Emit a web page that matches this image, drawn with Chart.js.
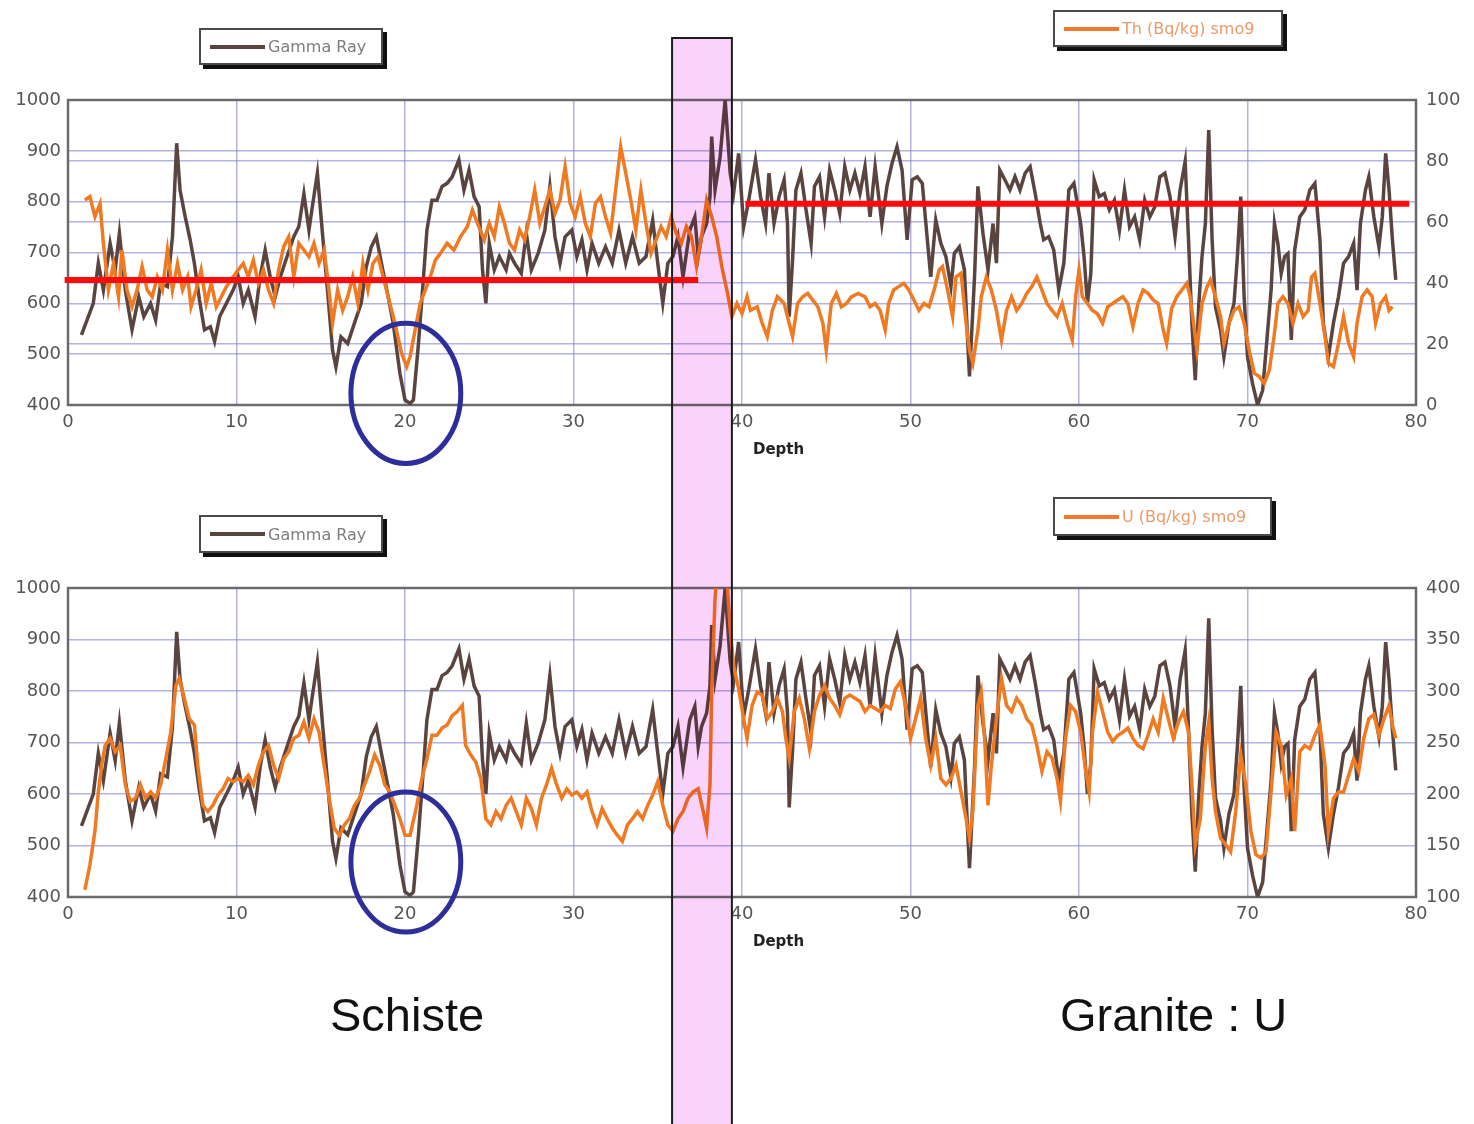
<!DOCTYPE html>
<html>
<head>
<meta charset="utf-8">
<title>Gamma Ray / Th / U</title>
<script src="https://cdn.jsdelivr.net/npm/chart.js@4.4.1/dist/chart.umd.min.js"></script>
<style>
    body { margin: 0; background: #fff; }
    #page { position: relative; width: 1474px; height: 1124px; overflow: hidden; background: #fff; }
    canvas { position: absolute; left: 0; }
    .legend {
        position: absolute; box-sizing: border-box; background: #fff;
        border: 2px solid #4a4a4a; box-shadow: 4px 4px 0 #111;
        display: flex; align-items: center;
        font-family: "DejaVu Sans", sans-serif; font-size: 16px;
    }
    .legend .swatch { display: inline-block; width: 55px; height: 4px; margin-left: 9px; }
    .legend .label { margin-left: 3px; white-space: nowrap; }
    .depth { position: absolute; font-family: "DejaVu Sans", sans-serif; font-weight: bold; font-size: 15px; line-height: 1; color: #222; }
    .big { position: absolute; font-family: "Liberation Sans", Arial, sans-serif; font-size: 47px; line-height: 1; color: #111; white-space: nowrap; }
</style>
</head>
<body>
<div id="page">
    <canvas id="chartTh" width="1474" height="490" style="top:0"></canvas>
    <canvas id="chartU" width="1474" height="634" style="top:490px"></canvas>

    <div class="legend" style="left:199px;top:28px;width:184px;height:37px">
        <span class="swatch" style="background:#5a4440"></span><span class="label" style="color:#7d7d7d">Gamma Ray</span>
    </div>
    <div class="legend" style="left:1053px;top:10px;width:230px;height:37px">
        <span class="swatch" style="background:#ef7a2a"></span><span class="label" style="color:#eb9a68">Th (Bq/kg) smo9</span>
    </div>
    <div class="legend" style="left:199px;top:515px;width:184px;height:38px">
        <span class="swatch" style="background:#5a4440"></span><span class="label" style="color:#7d7d7d">Gamma Ray</span>
    </div>
    <div class="legend" style="left:1053px;top:497px;width:219px;height:39px">
        <span class="swatch" style="background:#ef7a2a"></span><span class="label" style="color:#eb9a68">U (Bq/kg) smo9</span>
    </div>

    <div class="depth" style="left:753px;top:442px">Depth</div>
    <div class="depth" style="left:753px;top:934px">Depth</div>

    <div class="big" style="left:330px;top:991px">Schiste</div>
    <div class="big" style="left:1060px;top:991px">Granite : U</div>
</div>

<script>
// Profondeur (m) et Gamma Ray (même courbe sur les deux graphiques)
const depthGamma = [
    0.8,1.5,1.8,2.1,2.5,2.8,3.05,3.4,3.8,4.2,
    4.5,4.9,5.2,5.5,5.9,6.2,6.45,6.65,6.95,7.25,
    7.5,7.8,8.1,8.45,8.7,9.0,9.4,9.8,10.1,10.4,
    10.7,11.1,11.4,11.7,12.0,12.3,12.6,13.0,13.4,13.7,
    14.0,14.3,14.5,14.8,15.1,15.4,15.7,15.9,16.2,16.6,
    17.0,17.4,17.7,18.0,18.3,18.6,19.0,19.3,19.7,20.0,
    20.3,20.5,20.8,21.1,21.3,21.6,21.9,22.2,22.5,22.8,
    23.2,23.5,23.8,24.1,24.4,24.6,24.8,25.0,25.3,25.6,
    26.0,26.2,26.5,26.9,27.2,27.5,27.9,28.3,28.6,28.9,
    29.2,29.5,29.9,30.2,30.5,30.8,31.1,31.5,31.9,32.3,
    32.7,33.1,33.5,33.9,34.3,34.7,35.0,35.3,35.6,35.9,
    36.2,36.5,36.9,37.2,37.4,37.6,37.9,38.1,38.2,38.4,
    38.7,39.0,39.3,39.5,39.8,40.1,40.4,40.8,41.1,41.4,
    41.6,41.9,42.2,42.5,42.7,42.8,43.0,43.2,43.5,43.8,
    44.1,44.3,44.6,44.9,45.2,45.5,45.8,46.1,46.4,46.7,
    47.0,47.3,47.6,47.9,48.3,48.6,48.9,49.2,49.5,49.8,
    50.1,50.4,50.7,51.0,51.2,51.5,51.8,52.1,52.4,52.6,
    52.9,53.2,53.4,53.5,53.8,54.0,54.3,54.6,54.9,55.1,
    55.3,55.6,55.9,56.2,56.5,56.8,57.1,57.4,57.7,57.9,
    58.2,58.5,58.8,59.1,59.4,59.7,60.1,60.3,60.5,60.7,
    60.9,61.2,61.5,61.8,62.1,62.4,62.7,63.0,63.3,63.6,
    63.9,64.2,64.5,64.8,65.1,65.4,65.7,66.0,66.3,66.5,
    66.7,66.9,67.1,67.3,67.5,67.7,67.9,68.1,68.4,68.6,
    68.9,69.2,69.4,69.6,69.8,70.0,70.3,70.6,70.9,71.1,
    71.4,71.6,71.8,72.0,72.2,72.4,72.6,72.8,73.1,73.4,
    73.7,74.0,74.3,74.5,74.8,75.1,75.4,75.7,76.0,76.3,
    76.5,76.7,77.0,77.2,77.5,77.8,78.0,78.2,78.4,78.6,
    78.8
];
const gammaRay = [
    538,600,679,626,718,665,738,626,548,613,
    574,600,567,639,633,731,915,823,771,725,
    679,607,548,554,525,574,600,626,652,600,
    626,574,652,705,652,613,652,692,731,751,
    816,744,790,856,738,626,508,475,534,521,
    561,600,672,711,731,679,613,561,462,410,
    403,410,521,652,744,803,803,830,836,849,
    882,823,862,810,790,666,600,718,666,692,
    666,698,679,659,738,666,698,744,830,731,
    679,731,744,692,725,666,718,679,711,679,
    744,679,731,679,692,764,679,600,679,692,
    731,652,744,770,692,731,757,810,928,823,
    888,1000,856,816,895,751,803,882,810,757,
    856,757,810,843,757,574,685,823,856,784,
    718,830,849,770,862,823,777,869,823,856,
    816,869,770,869,757,830,875,908,862,725,
    843,849,836,725,652,764,718,692,633,698,
    711,666,521,456,652,830,738,666,757,679,
    862,843,823,849,823,856,869,816,757,725,
    731,705,626,679,823,836,757,692,600,659,
    843,810,816,784,803,744,823,751,770,725,
    803,770,790,849,856,810,731,823,879,725,
    561,449,593,692,757,941,725,593,548,495,
    561,600,692,810,613,495,442,400,429,508,
    626,757,718,659,692,698,528,705,770,784,
    823,836,725,561,495,561,613,679,692,718,
    626,757,823,849,770,711,770,895,823,725,
    646
];

// Thorium (Bq/kg) lissé
const depthTh = [
    1.0,1.3,1.6,1.9,2.1,2.4,2.7,3.0,3.2,3.5,
    3.8,4.1,4.4,4.7,5.0,5.3,5.6,5.9,6.2,6.5,
    6.8,7.1,7.3,7.6,7.9,8.2,8.5,8.8,9.1,9.4,
    9.8,10.1,10.4,10.7,11.0,11.3,11.6,11.9,12.2,12.5,
    12.8,13.1,13.4,13.7,14.0,14.3,14.6,14.9,15.2,15.4,
    15.7,16.0,16.3,16.6,16.9,17.2,17.5,17.8,18.1,18.4,
    18.7,19.1,19.4,19.8,20.1,20.3,20.6,20.9,21.2,21.5,
    21.8,22.1,22.5,22.9,23.3,23.7,24.0,24.3,24.7,25.0,
    25.3,25.6,25.9,26.2,26.5,26.8,27.1,27.4,27.7,28.0,
    28.3,28.6,28.9,29.2,29.5,29.8,30.1,30.4,30.7,31.0,
    31.3,31.6,31.9,32.2,32.5,32.8,33.1,33.4,33.7,34.0,
    34.3,34.6,34.9,35.2,35.5,35.8,36.1,36.4,36.7,37.0,
    37.3,37.6,37.9,38.2,38.5,38.8,39.1,39.4,39.7,40.0,
    40.3,40.5,40.9,41.2,41.5,41.8,42.1,42.5,42.8,43.0,
    43.3,43.6,43.9,44.2,44.5,44.8,45.0,45.3,45.6,45.9,
    46.2,46.5,46.9,47.3,47.6,47.9,48.2,48.5,48.7,49.0,
    49.3,49.6,49.9,50.2,50.5,50.8,51.1,51.4,51.7,51.9,
    52.2,52.5,52.7,53.0,53.3,53.5,53.7,54.0,54.2,54.5,
    54.8,55.1,55.4,55.7,56.0,56.3,56.6,56.9,57.2,57.5,
    57.8,58.1,58.4,58.7,59.0,59.3,59.6,59.8,60.0,60.2,
    60.5,60.8,61.1,61.4,61.7,62.0,62.3,62.6,62.9,63.2,
    63.5,63.8,64.1,64.4,64.7,65.0,65.2,65.5,65.8,66.1,
    66.4,66.6,66.8,67.0,67.3,67.6,67.8,68.1,68.4,68.6,
    68.9,69.2,69.5,69.8,70.1,70.4,70.7,71.0,71.3,71.6,
    71.8,72.1,72.4,72.7,73.0,73.3,73.6,73.8,74.0,74.3,
    74.6,74.8,75.1,75.4,75.7,76.0,76.3,76.5,76.8,77.1,
    77.4,77.6,77.9,78.2,78.4,78.6
];
const thorium = [
    67.2,68.3,61.7,66,53,37.7,46.4,35.5,50.8,37.7,
    32.2,37.7,45.4,37.7,35.5,42,37.7,50.8,37.7,46.4,
    37.7,42,32.2,37.7,44.3,33.3,39.9,32.2,35.5,38.8,
    42,44.3,46.4,42,47.5,39.9,44.3,37.7,33.3,44.3,
    51.9,55.2,42,53,50.8,48.6,53,46.4,50.8,42,
    26.8,37.7,31,35.5,42,33.3,46.4,37.7,46.4,48.6,
    42,33.3,26.8,16.9,12.6,15.8,24.6,33.3,37.7,42,
    47.5,49.7,53,50.8,55.2,58.5,63.9,59.6,54.1,59.6,
    55.2,65,59.6,53,50.8,57.4,54.1,61.7,70.5,59.6,
    65,70.5,62.8,67.2,78.1,66.1,61.7,68.3,59.6,55.2,
    66.1,68.3,61.7,56.3,70.5,84.7,76,67.2,57.4,70.5,
    59.6,49.7,54.1,58.5,55.2,61.7,56.3,53,58.5,55.2,
    45.4,55.2,67.2,61.7,55.2,45.4,37.7,29,33.3,30,
    35.5,31,32.2,26.8,22.4,31,35.5,33.3,26.8,22.4,
    33.3,35.5,36.6,34.4,32.2,26.8,18,33.3,36.6,32.2,
    33.3,35.5,36.6,35.5,32.2,33.3,31,24.6,33.3,37.7,
    38.8,39.9,37.7,34.4,31,33.3,32.2,37.7,44.3,45.4,
    37.7,29,42,43.2,26.8,18,13.7,24.6,35.5,42,
    37.7,31,21.3,31,35.5,31,33.3,36.6,38.8,42,
    37.7,33.3,31,29,33.3,26.8,21.3,35.5,44.3,35.5,
    33.3,31,29.9,26.8,32.2,33.3,34.4,35.5,33.3,25.7,
    33.3,37.7,36.6,34.4,33.3,24.6,20.2,31.7,35.5,37.7,
    39.9,35.5,26.8,18,33.3,38.8,41,35.5,29,20.2,
    26.8,31,32.2,26.8,18,10.4,9.3,7.1,11.5,23.5,
    33.3,35.5,33.3,26.8,33.3,29,31,42,43.2,33.3,
    22.4,13.7,12.6,20.2,29,20.2,15.8,26.8,35.5,37.7,
    35.5,26.8,33.3,35.5,31,32.2
];

// Uranium (Bq/kg) lissé
const depthU = [
    1.0,1.3,1.6,1.8,2.0,2.2,2.5,2.8,3.1,3.4,
    3.7,4.0,4.3,4.6,4.9,5.2,5.5,5.8,6.1,6.4,
    6.6,6.9,7.2,7.5,7.7,8.0,8.3,8.6,8.9,9.2,
    9.5,9.8,10.1,10.4,10.7,11.0,11.3,11.6,11.9,12.2,
    12.5,12.8,13.1,13.4,13.7,14.0,14.3,14.6,14.9,15.2,
    15.5,15.8,16.1,16.4,16.7,17.0,17.3,17.6,17.9,18.2,
    18.5,18.8,19.1,19.4,19.7,20.0,20.3,20.7,21.0,21.3,
    21.6,21.9,22.2,22.5,22.8,23.1,23.4,23.6,23.9,24.2,
    24.5,24.8,25.1,25.4,25.7,26.0,26.3,26.6,26.9,27.2,
    27.5,27.8,28.1,28.4,28.7,29.0,29.3,29.6,29.9,30.2,
    30.5,30.8,31.1,31.4,31.7,32.0,32.3,32.6,32.9,33.2,
    33.5,33.8,34.1,34.4,34.7,35.0,35.3,35.6,35.9,36.2,
    36.5,36.8,37.1,37.4,37.7,37.9,38.1,38.2,38.4,38.5,
    38.8,39.1,39.3,39.5,39.8,40.1,40.3,40.6,40.9,41.2,
    41.5,41.8,42.1,42.4,42.6,42.8,43.1,43.4,43.7,44.0,
    44.3,44.6,44.9,45.2,45.5,45.8,46.1,46.4,46.7,47.0,
    47.3,47.6,47.9,48.2,48.5,48.8,49.1,49.4,49.7,50.0,
    50.3,50.6,50.9,51.2,51.5,51.8,52.1,52.4,52.7,53.0,
    53.3,53.5,53.7,54.0,54.2,54.4,54.6,54.8,55.1,55.4,
    55.7,56.0,56.3,56.6,56.9,57.2,57.5,57.8,58.1,58.4,
    58.7,58.9,59.2,59.5,59.8,60.1,60.4,60.6,60.8,61.1,
    61.4,61.7,62.0,62.3,62.6,62.9,63.2,63.5,63.8,64.1,
    64.4,64.7,65.0,65.3,65.6,65.9,66.2,66.5,66.7,66.9,
    67.2,67.5,67.7,67.9,68.1,68.4,68.7,69.0,69.3,69.6,
    69.9,70.2,70.5,70.8,71.1,71.4,71.7,72.0,72.3,72.6,
    72.8,73.1,73.4,73.7,74.0,74.3,74.6,74.8,75.1,75.4,
    75.7,76.0,76.3,76.6,76.9,77.2,77.5,77.8,78.1,78.4,
    78.6,78.8
];
const uranium = [
    107,131,164,202,228,247,254,241,247,209,
    193,196,209,196,202,196,209,234,260,305,
    312,293,273,267,228,189,183,189,199,205,
    215,212,215,212,218,209,228,241,247,228,
    215,234,241,254,257,270,254,273,260,228,
    196,167,160,170,176,189,196,209,222,238,
    228,209,202,189,176,160,160,189,215,234,
    257,257,264,267,276,280,286,247,238,231,
    215,176,170,183,176,189,196,183,170,196,
    186,170,196,209,225,209,196,205,199,202,
    196,202,183,170,186,176,167,160,154,170,
    176,183,176,189,199,212,189,170,164,176,
    183,196,202,205,183,167,209,300,390,410,
    405,410,360,325,302,273,254,286,299,296,
    273,280,293,280,254,235,280,293,273,244,
    280,296,305,293,286,277,293,296,293,290,
    280,286,283,280,286,283,302,309,286,254,
    273,293,254,228,254,215,209,215,228,202,
    176,157,183,286,299,254,189,228,273,312,
    286,280,293,286,273,267,247,222,241,235,
    215,193,254,286,280,260,222,202,260,299,
    280,260,251,257,260,264,254,247,244,257,
    273,260,293,273,254,270,280,260,209,151,
    176,247,270,215,183,157,151,144,183,238,
    209,164,141,138,144,202,260,247,199,215,
    164,241,247,244,257,267,228,164,196,202,
    202,218,234,222,254,273,277,257,273,286,
    267,254
];

// Niveaux moyens de Th (traits rouges) : schiste puis granite
const thLevelSchisteDepth = [-0.2, 37.4];
const thLevelSchiste = [41, 41];
const thLevelGraniteDepth = [40.2, 79.6];
const thLevelGranite = [66, 66];

const brown = '#5a4440';
const orange = '#f07a22';
const gridColor = 'rgba(128,128,214,0.6)';
const tickFont = { family: 'DejaVu Sans', size: 18 };
const tickFormat = { useGrouping: false };

function points(xs, ys) {
    return xs.map(function(x, i) { return { x: x, y: ys[i] }; });
}

// Cadre, bande rose et ellipse bleue
const decorPlugin = {
    id: 'decor',
    beforeDatasetsDraw(chart) {
        const a = chart.chartArea;
        const ctx = chart.ctx;
        ctx.save();
        ctx.strokeStyle = '#6b6b6b';
        ctx.lineWidth = 2.5;
        ctx.strokeRect(a.left, a.top, a.right - a.left, a.bottom - a.top);
        ctx.restore();
    },
    afterDraw(chart, args, opts) {
        const ctx = chart.ctx;
        const xs = chart.scales.x;
        const ys = chart.scales.y;
        const x0 = xs.getPixelForValue(opts.band[0]);
        const x1 = xs.getPixelForValue(opts.band[1]);
        const h = chart.height;

        ctx.save();
        ctx.globalCompositeOperation = 'multiply';
        ctx.fillStyle = '#fad3fa';
        ctx.fillRect(x0, opts.bandTop, x1 - x0, h - opts.bandTop);
        ctx.globalCompositeOperation = 'source-over';
        ctx.strokeStyle = '#1c1c1c';
        ctx.lineWidth = 2;
        ctx.beginPath();
        ctx.moveTo(x0, h);
        ctx.lineTo(x0, opts.bandTop);
        if (opts.bandTop > 0) {
            ctx.lineTo(x1, opts.bandTop);
        } else {
            ctx.moveTo(x1, opts.bandTop);
        }
        ctx.lineTo(x1, h);
        ctx.stroke();

        // ellipse autour du minimum à 20 m
        const e = opts.ellipse;
        const cx = xs.getPixelForValue(e.x);
        const cy = ys.getPixelForValue(e.y);
        const rx = xs.getPixelForValue(e.x + e.dx) - cx;
        const ry = cy - ys.getPixelForValue(e.y + e.dy);
        ctx.strokeStyle = '#2d2e9c';
        ctx.lineWidth = 5;
        ctx.beginPath();
        ctx.ellipse(cx, cy, rx, ry, 0, 0, Math.PI * 2);
        ctx.stroke();
        ctx.restore();
    }
};

function xScale(height) {
    return {
        type: 'linear', min: 0, max: 80,
        ticks: { stepSize: 10, padding: 7, font: tickFont, color: '#555', format: tickFormat },
        grid: { color: gridColor, lineWidth: 1.5, drawTicks: false },
        border: { display: false },
        afterFit: function(s) { s.height = height; }
    };
}

function lineDataset(label, data, color, axis, order) {
    return {
        label: label, data: data, yAxisID: axis, order: order,
        borderColor: color, borderWidth: 3.5, pointRadius: 0, tension: 0,
        fill: false
    };
}

// Graphique du haut : Gamma Ray + Th
new Chart(document.getElementById('chartTh'), {
    type: 'line',
    data: {
        datasets: [
            lineDataset('Gamma Ray', points(depthGamma, gammaRay), brown, 'y', 3),
            lineDataset('Th (Bq/kg) smo9', points(depthTh, thorium), orange, 'y2', 2),
            {
                label: 'Th schiste', data: points(thLevelSchisteDepth, thLevelSchiste), yAxisID: 'y2', order: 1,
                borderColor: '#ff0a0a', borderWidth: 6, pointRadius: 0, clip: false
            },
            {
                label: 'Th granite', data: points(thLevelGraniteDepth, thLevelGranite), yAxisID: 'y2', order: 1,
                borderColor: '#ff0a0a', borderWidth: 6, pointRadius: 0, clip: false
            }
        ]
    },
    options: {
        responsive: false,
        animation: false,
        devicePixelRatio: 1,
        layout: { padding: { top: 100, left: 0, right: 0, bottom: 0 } },
        plugins: {
            legend: { display: false },
            tooltip: { enabled: false },
            decor: { band: [35.85, 39.4], bandTop: 38, ellipse: { x: 20.05, y: 423, dx: 3.26, dy: 138 } }
        },
        scales: {
            x: xScale(85),
            y: {
                position: 'left', min: 400, max: 1000,
                ticks: { stepSize: 100, padding: 7, font: tickFont, color: '#555', format: tickFormat },
                grid: { color: gridColor, lineWidth: 1.5, drawTicks: false },
                border: { display: false },
                afterFit: function(s) { s.width = 68; }
            },
            y2: {
                position: 'right', min: 0, max: 100,
                ticks: { stepSize: 20, padding: 10, font: tickFont, color: '#555', format: tickFormat },
                grid: { color: gridColor, lineWidth: 1.5, drawTicks: false },
                border: { display: false },
                afterFit: function(s) { s.width = 58; }
            }
        }
    },
    plugins: [decorPlugin]
});

// Graphique du bas : Gamma Ray + U
new Chart(document.getElementById('chartU'), {
    type: 'line',
    data: {
        datasets: [
            lineDataset('Gamma Ray', points(depthGamma, gammaRay), brown, 'y', 3),
            lineDataset('U (Bq/kg) smo9', points(depthU, uranium), orange, 'y2', 2)
        ]
    },
    options: {
        responsive: false,
        animation: false,
        devicePixelRatio: 1,
        layout: { padding: { top: 98, left: 0, right: 0, bottom: 0 } },
        plugins: {
            legend: { display: false },
            tooltip: { enabled: false },
            decor: { band: [35.85, 39.4], bandTop: 0, ellipse: { x: 20.05, y: 468, dx: 3.26, dy: 136 } }
        },
        scales: {
            x: xScale(227),
            y: {
                position: 'left', min: 400, max: 1000,
                ticks: { stepSize: 100, padding: 7, font: tickFont, color: '#555', format: tickFormat },
                grid: { color: gridColor, lineWidth: 1.5, drawTicks: false },
                border: { display: false },
                afterFit: function(s) { s.width = 68; }
            },
            y2: {
                position: 'right', min: 100, max: 400,
                ticks: { stepSize: 50, padding: 10, font: tickFont, color: '#555', format: tickFormat },
                grid: { drawOnChartArea: false, drawTicks: false },
                border: { display: false },
                afterFit: function(s) { s.width = 58; }
            }
        }
    },
    plugins: [decorPlugin]
});
</script>
</body>
</html>
